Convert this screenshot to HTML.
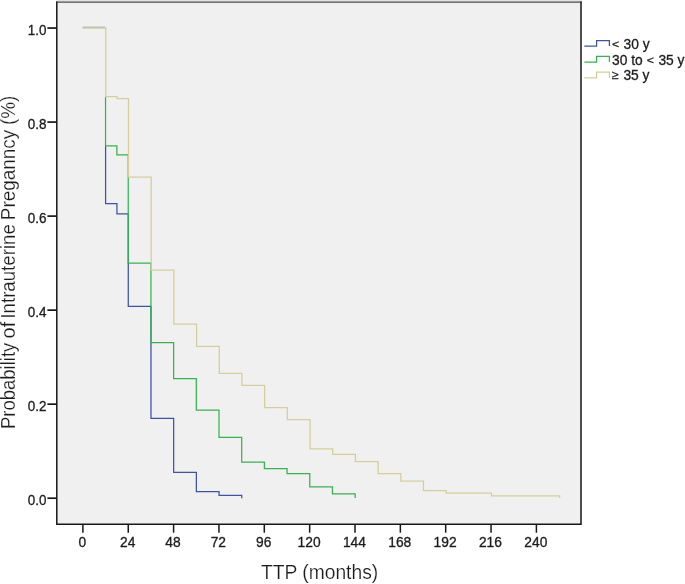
<!DOCTYPE html>
<html><head><meta charset="utf-8"><title>TTP</title>
<style>
html,body{margin:0;padding:0;background:#fff;}
svg{display:block;}
text{font-family:"Liberation Sans",Arial,sans-serif;fill:#1c1c1c;}
</style></head><body>
<svg width="685" height="584" viewBox="0 0 685 584">
<rect x="0" y="0" width="685" height="584" fill="#ffffff"/>
<rect x="56.8" y="0" width="524.9" height="524.3" fill="#f0f0f0"/>
<rect x="56.8" y="0" width="524.9" height="1.4" fill="#e2e2e2"/>
<line x1="56.1" y1="2.1" x2="581.7" y2="2.1" stroke="#4c4c4c" stroke-width="1.4"/>
<path d="M56.8 1.6V524.3H581V1.6" fill="none" stroke="#181818" stroke-width="1.5"/>
<g stroke="#161616" stroke-width="1.5"><line x1="82.9" y1="524" x2="82.9" y2="532.7"/><line x1="128.25" y1="524" x2="128.25" y2="532.7"/><line x1="173.6" y1="524" x2="173.6" y2="532.7"/><line x1="218.95" y1="524" x2="218.95" y2="532.7"/><line x1="264.3" y1="524" x2="264.3" y2="532.7"/><line x1="309.65" y1="524" x2="309.65" y2="532.7"/><line x1="355.0" y1="524" x2="355.0" y2="532.7"/><line x1="400.35" y1="524" x2="400.35" y2="532.7"/><line x1="445.7" y1="524" x2="445.7" y2="532.7"/><line x1="491.05" y1="524" x2="491.05" y2="532.7"/><line x1="536.4" y1="524" x2="536.4" y2="532.7"/></g><g stroke="#161616" stroke-width="1.7"><line x1="47.4" y1="28.05" x2="57" y2="28.05"/><line x1="47.4" y1="122.08" x2="57" y2="122.08"/><line x1="47.4" y1="216.11" x2="57" y2="216.11"/><line x1="47.4" y1="310.14" x2="57" y2="310.14"/><line x1="47.4" y1="404.17" x2="57" y2="404.17"/><line x1="47.4" y1="498.2" x2="57" y2="498.2"/></g>
<g font-size="13.8" text-anchor="middle" stroke="#1c1c1c" stroke-width="0.3"><text transform="translate(82.3,547) scale(1,1.09)">0</text><text transform="translate(127.65,547) scale(1,1.09)">24</text><text transform="translate(173.0,547) scale(1,1.09)">48</text><text transform="translate(218.35,547) scale(1,1.09)">72</text><text transform="translate(263.7,547) scale(1,1.09)">96</text><text transform="translate(309.05,547) scale(1,1.09)">120</text><text transform="translate(354.4,547) scale(1,1.09)">144</text><text transform="translate(399.75,547) scale(1,1.09)">168</text><text transform="translate(445.1,547) scale(1,1.09)">192</text><text transform="translate(490.45,547) scale(1,1.09)">216</text><text transform="translate(535.8,547) scale(1,1.09)">240</text></g>
<g font-size="13.8" text-anchor="end" stroke="#1c1c1c" stroke-width="0.3"><text transform="translate(46.4,34.95) scale(0.975,1.09)">1.0</text><text transform="translate(46.4,128.98) scale(0.975,1.09)">0.8</text><text transform="translate(46.4,223.01) scale(0.975,1.09)">0.6</text><text transform="translate(46.4,317.04) scale(0.975,1.09)">0.4</text><text transform="translate(46.4,411.07) scale(0.975,1.09)">0.2</text><text transform="translate(46.4,505.1) scale(0.975,1.09)">0.0</text></g>
<g fill="none" stroke-width="1.25" stroke-linejoin="miter">
<path d="M82.55 27.2H105.34" stroke="#8fb5a8" stroke-width="1.1"/>
<path d="M105.64 145.5V203.3H116.99V213.5H128.33V306H151.03V418H173.72V472.1H196.41V491.4H219.1V495.0H241.79V498.0" stroke="#3d52aa" transform="translate(-0.05,0.25)"/>
<path d="M105.64 96.5V145.5H116.99V154.5H128.33V262.8H151.03V342.2H173.72V378.2H196.41V409.8H219.1V437H241.79V461.8H264.49V468.2H287.18V473.2H309.87V486.6H332.56V493.6H355.25V497.6" stroke="#35b44c" transform="translate(-0.1,0.35)"/>
<path d="M82.55 27.85H105.64V96.5H116.99V98.5H128.33V177H151.03V270H173.72V323.9H196.41V346.3H219.1V373.1H241.79V385.3H264.49V407.5H287.18V419.4H309.87V448.8H332.56V454.2H355.25V461.4H377.95V473.5H400.64V481H423.33V490.5H446.02V493H491.41V495.6H559.48V497.7" stroke="#d6ce96" transform="translate(0.15,0.2)"/>
</g>
<g fill="none" stroke-width="1.25">
<path d="M584.3 46H596.6V40.5H609.4V46" stroke="#3d52aa"/>
<path d="M584.3 62H596.6V56.3H609.4V62" stroke="#35b44c"/>
<path d="M584.3 77.9H596.6V72.1H609.4V77.9" stroke="#d6ce96"/>
</g>
<g font-size="13.8" stroke="#1c1c1c" stroke-width="0.3">
<text transform="translate(611.9,48.1) scale(0.9,0.8)">&lt;</text>
<text transform="translate(623.6,48.8) scale(1,1.09)">30 y</text>
<text transform="translate(612,64.6) scale(1,1.09)">30 to</text>
<text transform="translate(646.8,64.2) scale(0.9,0.8)">&lt;</text>
<text transform="translate(658.4,64.6) scale(1,1.09)">35 y</text>
<text transform="translate(612.1,78.7) scale(0.9,0.89)">≥</text>
<text transform="translate(623.4,80.2) scale(1,1.09)">35 y</text>
</g>
<text x="260.9" y="579.1" font-size="20.3" textLength="117.3" lengthAdjust="spacingAndGlyphs" fill="#242424" stroke="#fff" stroke-width="0.2">TTP (months)</text>
<text transform="translate(15.2,0) rotate(-90)" font-size="20.3" fill="#242424" stroke="#fff" stroke-width="0.2"><tspan x="-429.1" y="0" textLength="86.4" lengthAdjust="spacingAndGlyphs">Probability</tspan> <tspan x="-338.4" y="0" textLength="16.6" lengthAdjust="spacingAndGlyphs">of</tspan> <tspan x="-318.6" y="0" textLength="94.4" lengthAdjust="spacingAndGlyphs">Intrauterine</tspan> <tspan x="-220.2" y="0" textLength="90.3" lengthAdjust="spacingAndGlyphs">Preganncy</tspan> <tspan x="-125.0" y="0" textLength="29.4" lengthAdjust="spacingAndGlyphs">(%)</tspan></text>
</svg>
</body></html>
